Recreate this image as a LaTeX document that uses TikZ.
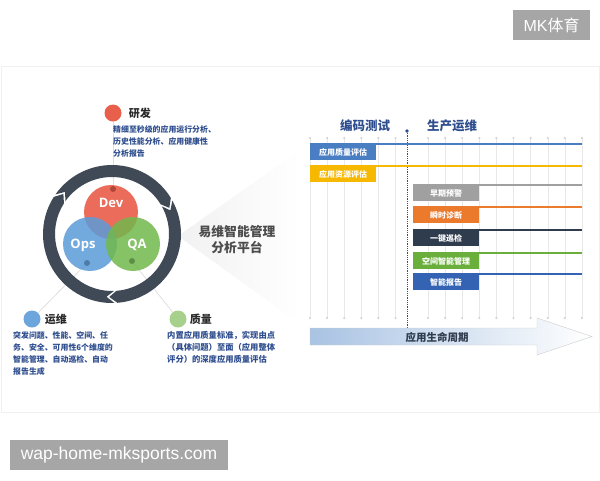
\documentclass[tikz,border=0pt]{standalone}
\usepackage{fontspec}
\setmainfont{Noto Sans CJK SC}
\newfontfamily\wmfont{Liberation Sans}
\newfontfamily\vennfont{Open Sans}
\usetikzlibrary{positioning,backgrounds}
\definecolor{ringgray}{HTML}{3F4A56}
\definecolor{textblue}{HTML}{2E4D8E}
\definecolor{headgray}{HTML}{2A2A2A}
\definecolor{devred}{HTML}{E8523D}
\definecolor{opsblue}{HTML}{5A9BD8}
\definecolor{qagreen}{HTML}{71B84C}
\definecolor{dotred}{HTML}{E8604C}
\definecolor{dotblue}{HTML}{6CA6DC}
\definecolor{dotgreen}{HTML}{A8D08D}
\definecolor{barqblue}{HTML}{4A7EC2}
\definecolor{baryellow}{HTML}{F6B800}
\definecolor{bargray}{HTML}{A0A0A0}
\definecolor{barorange}{HTML}{EC7A2C}
\definecolor{barnavy}{HTML}{2F3C4E}
\definecolor{bargreen}{HTML}{6AAE3C}
\definecolor{barblue}{HTML}{3463B4}
\definecolor{arrowblue}{HTML}{A9C3E3}
\definecolor{wmgray}{HTML}{A6A6A6}
\begin{document}
\begin{tikzpicture}[x=1pt,y=-1pt,
    every node/.style={inner sep=0pt},
    body/.style={font=\fontsize{7.9}{12}\selectfont\bfseries, text=textblue, align=left, anchor=north west},
    head/.style={font=\fontsize{11}{13}\selectfont\bfseries, text=headgray},
    labdot/.style={circle, minimum size=17pt},
    venn/.style={circle, minimum size=54pt, fill opacity=0.85},
    vlabel/.style={font=\vennfont\fontsize{13}{14}\selectfont\bfseries, text=white},
    smalldot/.style={circle, minimum size=6pt, fill opacity=0.6},
    link/.style={gray!25, line width=0.8pt},
    tag/.style={minimum width=66pt, minimum height=16pt, anchor=north west, text=white, font=\fontsize{8}{9}\selectfont\bfseries},
    phase/.style={font=\fontsize{12.5}{14}\selectfont\bfseries, text=textblue}]
\useasboundingbox (0,0) rectangle (600,480);

% watermarks and panel
\node[fill=wmgray, minimum width=77pt, minimum height=30pt, text=white, font=\fontsize{16}{18}\selectfont] (mk) at (551.5,25) {{\wmfont MK}体育};
\node[fill=wmgray, minimum width=218pt, minimum height=30pt, text=white, font=\wmfont\fontsize{17.5}{19}\selectfont] (url) at (119,455) {wap-home-mksports.com};
\draw[gray!12] (1,66) rectangle (599,412);

% spotlight behind the ring
\shade[left color=gray!11, right color=white] (178,236) -- (300,150) -- (300,324) -- cycle;

% labels round the ring
\node[labdot, fill=dotred] (rdot) at (113,113) {};
\node[head, right=7pt of rdot] (yanfa) {研发};
\node[body] (yanfatext) at (113,125) {精细至秒级的应用运行分析、\\历史性能分析、应用健康性\\分析报告};

\node[labdot, fill=dotblue] (bdot) at (32,319) {};
\node[head, right=4pt of bdot] (yunwei) {运维};
\node[body] (yunweitext) at (13,331) {突发问题、性能、空间、任\\务、安全、可用性6个维度的\\智能管理、自动巡检、自动\\报告生成};

\node[labdot, fill=dotgreen] (gdot) at (178,319) {};
\node[head, right=3pt of gdot] (zhiliang) {质量};
\node[body, font=\fontsize{8.3}{12}\selectfont\bfseries] (zhiliangtext) at (167,331) {内置应用质量标准，实现由点\\（具体问题）至面（应用整体\\评分）的深度应用质量评估};

% ring with three arrow segments
\begin{scope}[shift={(112,234)}, y=1pt]
  \foreach \b/\e in {31.5/145, -85.5/29, 147.5/272}
    \fill[ringgray] (\e:69) arc[start angle=\e, end angle=\b, radius=69]
      -- ({\b-7}:63) -- (\b:57) arc[start angle=\b, end angle=\e, radius=57]
      -- ({\e-7}:63) -- cycle;
\end{scope}

% Dev / Ops / QA
\node[venn, fill=devred] (dev) at (111,212) {};
\node[venn, fill=opsblue] (ops) at (90,244) {};
\node[venn, fill=qagreen] (qa) at (133,244) {};
\node[vlabel] at ([yshift=9pt]dev.center) {Dev};
\node[vlabel] at ([xshift=-7pt,yshift=-1pt]ops.center) {Ops};
\node[vlabel] at ([xshift=4pt,yshift=-1pt]qa.center) {QA};
\node[smalldot, fill=devred!60!black] (ddot) at (113,189) {};
\node[smalldot, fill=opsblue!60!black] (odot) at (87,263) {};
\node[smalldot, fill=qagreen!60!black] (qdot) at (132,261) {};
\begin{pgfonlayer}{background}
  \draw[link] (rdot) -- (ddot);
  \draw[link] (bdot) -- (odot);
  \draw[link] (gdot) -- (qdot);
\end{pgfonlayer}

\node[font=\fontsize{12.8}{16}\selectfont\bfseries, text=black!70, align=center] (platform) at (237,240) {易维智能管理\\分析平台};

% lifecycle chart
\foreach \k in {0,...,5} {
  \draw[gray!18] (310+17.1*\k,138) -- (310+17.1*\k,318);
  \fill[gray!35] (310+17.1*\k,138) circle (1.2pt) (310+17.1*\k,318) circle (1.2pt);
}
\foreach \k in {0,...,9} {
  \draw[gray!18] (428+17.1*\k,138) -- (428+17.1*\k,318);
  \fill[gray!35] (428+17.1*\k,138) circle (1.2pt) (428+17.1*\k,318) circle (1.2pt);
}
\node[phase] (coding) at (365,126) {编码测试};
\node[phase] (prod) at (452,126) {生产运维};
\coordinate (split) at (407,131);
\coordinate (splitend) at (407,345);
\draw[textblue, densely dotted, line width=0.8pt] (split) -- (splitend);
\fill[textblue] (split) circle (1.8pt);

\node[tag, fill=barqblue] (quality) at (310,144) {应用质量评估};
\draw[barqblue, line width=2.2pt] (quality.north west) -- (582,144);
\node[tag, fill=baryellow] (resource) at (310,166) {应用资源评估};
\draw[baryellow, line width=2.2pt] (resource.north west) -- (582,166);
\foreach \y/\c/\t [count=\i] in {185/bargray/早期预警, 207/barorange/瞬时诊断, 230/barnavy/一键巡检, 253/bargreen/空间智能管理, 274/barblue/智能报告} {
  \node[tag, fill=\c] (tag\i) at (413,\y) {\t};
  \draw[\c, line width=2.2pt] (tag\i.north west) -- (582,\y);
}

\shade[left color=arrowblue, right color=white, draw=gray!40] (310,328) -- (537,328) -- (537,318)
  -- (592,336.5) -- (537,355) -- (537,345) -- (310,345) -- cycle;
\node[font=\fontsize{10.5}{12}\selectfont\bfseries, text=barnavy] (life) at (437,337) {应用生命周期};
\end{tikzpicture}
\end{document}
